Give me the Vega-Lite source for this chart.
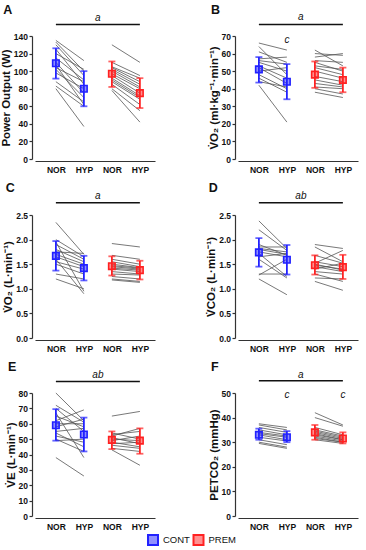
{
"$schema":"https://vega.github.io/schema/vega-lite/v6.json",
"padding":{"left":0,"top":3,"right":5,"bottom":0},
"datasets":{
"ind":[
{"p":"A","g":"CONT","n":135,"h":112},{"p":"A","g":"CONT","n":133,"h":100},{"p":"A","g":"CONT","n":130,"h":95},{"p":"A","g":"CONT","n":125,"h":85},{"p":"A","g":"CONT","n":120,"h":102},{"p":"A","g":"CONT","n":115,"h":90},{"p":"A","g":"CONT","n":110,"h":75},{"p":"A","g":"CONT","n":107,"h":62},{"p":"A","g":"CONT","n":104,"h":88},{"p":"A","g":"CONT","n":102,"h":70},{"p":"A","g":"CONT","n":98,"h":80},{"p":"A","g":"CONT","n":88,"h":65},{"p":"A","g":"CONT","n":83,"h":60},{"p":"A","g":"CONT","n":80,"h":37},
{"p":"A","g":"PREM","n":130,"h":110},{"p":"A","g":"PREM","n":110,"h":95},{"p":"A","g":"PREM","n":105,"h":92},{"p":"A","g":"PREM","n":104,"h":88},{"p":"A","g":"PREM","n":102,"h":85},{"p":"A","g":"PREM","n":100,"h":82},{"p":"A","g":"PREM","n":97,"h":80},{"p":"A","g":"PREM","n":95,"h":75},{"p":"A","g":"PREM","n":92,"h":72},{"p":"A","g":"PREM","n":90,"h":70},{"p":"A","g":"PREM","n":88,"h":68},{"p":"A","g":"PREM","n":85,"h":62},{"p":"A","g":"PREM","n":80,"h":55},{"p":"A","g":"PREM","n":78,"h":42},
{"p":"B","g":"CONT","n":66,"h":62},{"p":"B","g":"CONT","n":64,"h":48},{"p":"B","g":"CONT","n":61,"h":55},{"p":"B","g":"CONT","n":57,"h":58},{"p":"B","g":"CONT","n":56,"h":54},{"p":"B","g":"CONT","n":55,"h":50},{"p":"B","g":"CONT","n":53,"h":46},{"p":"B","g":"CONT","n":52,"h":43},{"p":"B","g":"CONT","n":50,"h":52},{"p":"B","g":"CONT","n":48,"h":40},{"p":"B","g":"CONT","n":46,"h":38},{"p":"B","g":"CONT","n":44,"h":41},{"p":"B","g":"CONT","n":42,"h":21},
{"p":"B","g":"PREM","n":62,"h":53},{"p":"B","g":"PREM","n":60,"h":59},{"p":"B","g":"PREM","n":58,"h":60},{"p":"B","g":"PREM","n":56,"h":55},{"p":"B","g":"PREM","n":55,"h":50},{"p":"B","g":"PREM","n":53,"h":51},{"p":"B","g":"PREM","n":52,"h":48},{"p":"B","g":"PREM","n":50,"h":46},{"p":"B","g":"PREM","n":47,"h":44},{"p":"B","g":"PREM","n":45,"h":42},{"p":"B","g":"PREM","n":43,"h":41},{"p":"B","g":"PREM","n":41,"h":40},{"p":"B","g":"PREM","n":40,"h":37},{"p":"B","g":"PREM","n":38,"h":35},
{"p":"C","g":"CONT","n":2.35,"h":1.7},{"p":"C","g":"CONT","n":2.0,"h":1.65},{"p":"C","g":"CONT","n":1.95,"h":0.95},{"p":"C","g":"CONT","n":1.9,"h":1.6},{"p":"C","g":"CONT","n":1.8,"h":1.55},{"p":"C","g":"CONT","n":1.75,"h":1.72},{"p":"C","g":"CONT","n":1.7,"h":1.5},{"p":"C","g":"CONT","n":1.65,"h":1.45},{"p":"C","g":"CONT","n":1.6,"h":0.9},{"p":"C","g":"CONT","n":1.55,"h":1.4},{"p":"C","g":"CONT","n":1.5,"h":1.3},{"p":"C","g":"CONT","n":1.3,"h":1.2},{"p":"C","g":"CONT","n":1.2,"h":1.0},
{"p":"C","g":"PREM","n":1.92,"h":1.85},{"p":"C","g":"PREM","n":1.68,"h":1.6},{"p":"C","g":"PREM","n":1.6,"h":1.5},{"p":"C","g":"PREM","n":1.55,"h":1.45},{"p":"C","g":"PREM","n":1.5,"h":1.43},{"p":"C","g":"PREM","n":1.47,"h":1.42},{"p":"C","g":"PREM","n":1.45,"h":1.4},{"p":"C","g":"PREM","n":1.42,"h":1.38},{"p":"C","g":"PREM","n":1.4,"h":1.35},{"p":"C","g":"PREM","n":1.35,"h":1.3},{"p":"C","g":"PREM","n":1.3,"h":1.28},{"p":"C","g":"PREM","n":1.25,"h":1.2},{"p":"C","g":"PREM","n":1.2,"h":1.15},{"p":"C","g":"PREM","n":1.18,"h":1.13},
{"p":"D","g":"CONT","n":2.38,"h":1.82},{"p":"D","g":"CONT","n":2.2,"h":1.78},{"p":"D","g":"CONT","n":1.9,"h":1.68},{"p":"D","g":"CONT","n":1.85,"h":1.85},{"p":"D","g":"CONT","n":1.82,"h":1.75},{"p":"D","g":"CONT","n":1.8,"h":1.7},{"p":"D","g":"CONT","n":1.75,"h":1.65},{"p":"D","g":"CONT","n":1.72,"h":1.25},{"p":"D","g":"CONT","n":1.65,"h":1.72},{"p":"D","g":"CONT","n":1.6,"h":1.22},{"p":"D","g":"CONT","n":1.3,"h":1.3},{"p":"D","g":"CONT","n":1.28,"h":1.6},{"p":"D","g":"CONT","n":1.2,"h":0.88},
{"p":"D","g":"PREM","n":1.9,"h":1.82},{"p":"D","g":"PREM","n":1.85,"h":1.55},{"p":"D","g":"PREM","n":1.68,"h":1.52},{"p":"D","g":"PREM","n":1.55,"h":1.45},{"p":"D","g":"PREM","n":1.52,"h":1.78},{"p":"D","g":"PREM","n":1.5,"h":1.38},{"p":"D","g":"PREM","n":1.48,"h":1.4},{"p":"D","g":"PREM","n":1.45,"h":1.35},{"p":"D","g":"PREM","n":1.4,"h":1.52},{"p":"D","g":"PREM","n":1.35,"h":1.3},{"p":"D","g":"PREM","n":1.3,"h":1.15},{"p":"D","g":"PREM","n":1.22,"h":1.2},{"p":"D","g":"PREM","n":1.15,"h":0.97},
{"p":"E","g":"CONT","n":80,"h":62},{"p":"E","g":"CONT","n":72,"h":61},{"p":"E","g":"CONT","n":70,"h":55},{"p":"E","g":"CONT","n":67,"h":38},{"p":"E","g":"CONT","n":65,"h":58},{"p":"E","g":"CONT","n":62,"h":69},{"p":"E","g":"CONT","n":60,"h":60},{"p":"E","g":"CONT","n":58,"h":63},{"p":"E","g":"CONT","n":55,"h":57},{"p":"E","g":"CONT","n":54,"h":45},{"p":"E","g":"CONT","n":52,"h":48},{"p":"E","g":"CONT","n":50,"h":42},{"p":"E","g":"CONT","n":49,"h":50},{"p":"E","g":"CONT","n":38,"h":26},
{"p":"E","g":"PREM","n":65,"h":68},{"p":"E","g":"PREM","n":54,"h":50},{"p":"E","g":"PREM","n":53,"h":55},{"p":"E","g":"PREM","n":52,"h":57},{"p":"E","g":"PREM","n":51,"h":47},{"p":"E","g":"PREM","n":50,"h":49},{"p":"E","g":"PREM","n":49,"h":52},{"p":"E","g":"PREM","n":48,"h":45},{"p":"E","g":"PREM","n":47,"h":48},{"p":"E","g":"PREM","n":46,"h":44},{"p":"E","g":"PREM","n":44,"h":42},{"p":"E","g":"PREM","n":43,"h":33},
{"p":"F","g":"CONT","n":37.5,"h":36},{"p":"F","g":"CONT","n":37,"h":35},{"p":"F","g":"CONT","n":36,"h":34},{"p":"F","g":"CONT","n":35,"h":33},{"p":"F","g":"CONT","n":34,"h":32.5},{"p":"F","g":"CONT","n":33.5,"h":32},{"p":"F","g":"CONT","n":33,"h":31},{"p":"F","g":"CONT","n":32,"h":30.5},{"p":"F","g":"CONT","n":31,"h":29},{"p":"F","g":"CONT","n":30,"h":28},{"p":"F","g":"CONT","n":29.5,"h":27.5},
{"p":"F","g":"PREM","n":42,"h":37},{"p":"F","g":"PREM","n":40,"h":36.5},{"p":"F","g":"PREM","n":36,"h":33},{"p":"F","g":"PREM","n":35,"h":32.5},{"p":"F","g":"PREM","n":34.5,"h":32},{"p":"F","g":"PREM","n":34,"h":31.5},{"p":"F","g":"PREM","n":33.5,"h":31},{"p":"F","g":"PREM","n":33,"h":31},{"p":"F","g":"PREM","n":32.5,"h":30.5},{"p":"F","g":"PREM","n":32,"h":30},{"p":"F","g":"PREM","n":31.5,"h":30},{"p":"F","g":"PREM","n":31,"h":29.5}
],
"sum":[
{"p":"A","g":"CONT","k":"CONT NOR","m":109,"lo":91.5,"hi":126},{"p":"A","g":"CONT","k":"CONT HYP","m":80,"lo":60,"hi":100},{"p":"A","g":"PREM","k":"PREM NOR","m":97,"lo":82,"hi":111},{"p":"A","g":"PREM","k":"PREM HYP","m":75,"lo":58,"hi":92},
{"p":"B","g":"CONT","k":"CONT NOR","m":51,"lo":43.5,"hi":58},{"p":"B","g":"CONT","k":"CONT HYP","m":44,"lo":34,"hi":54},{"p":"B","g":"PREM","k":"PREM NOR","m":48,"lo":40.5,"hi":55.5},{"p":"B","g":"PREM","k":"PREM HYP","m":45,"lo":38,"hi":52},
{"p":"C","g":"CONT","k":"CONT NOR","m":1.67,"lo":1.37,"hi":1.97},{"p":"C","g":"CONT","k":"CONT HYP","m":1.42,"lo":1.17,"hi":1.67},{"p":"C","g":"PREM","k":"PREM NOR","m":1.46,"lo":1.27,"hi":1.66},{"p":"C","g":"PREM","k":"PREM HYP","m":1.38,"lo":1.19,"hi":1.57},
{"p":"D","g":"CONT","k":"CONT NOR","m":1.74,"lo":1.45,"hi":2.03},{"p":"D","g":"CONT","k":"CONT HYP","m":1.59,"lo":1.29,"hi":1.89},{"p":"D","g":"PREM","k":"PREM NOR","m":1.48,"lo":1.29,"hi":1.68},{"p":"D","g":"PREM","k":"PREM HYP","m":1.44,"lo":1.2,"hi":1.69},
{"p":"E","g":"CONT","k":"CONT NOR","m":59,"lo":49,"hi":69.5},{"p":"E","g":"CONT","k":"CONT HYP","m":53,"lo":42,"hi":64},{"p":"E","g":"PREM","k":"PREM NOR","m":49.5,"lo":43.5,"hi":55},{"p":"E","g":"PREM","k":"PREM HYP","m":49,"lo":40.5,"hi":57},
{"p":"F","g":"CONT","k":"CONT NOR","m":33,"lo":31,"hi":35.5},{"p":"F","g":"CONT","k":"CONT HYP","m":32,"lo":30,"hi":34.5},{"p":"F","g":"PREM","k":"PREM NOR","m":34,"lo":31,"hi":37},{"p":"F","g":"PREM","k":"PREM HYP","m":31.5,"lo":29.5,"hi":34}
],
"sig":[{"p":"A","lab":"a"},{"p":"B","lab":"a"},{"p":"C","lab":"a"},{"p":"D","lab":"ab"},{"p":"E","lab":"ab"},{"p":"F","lab":"a"}],
"cc":[{"p":"B","k":"CONT HYP","lab":"c"},{"p":"F","k":"CONT HYP","lab":"c"},{"p":"F","k":"PREM HYP","lab":"c"}],
"leg":[{"g":"CONT"},{"g":"PREM"}]
},
"spacing":0,
"vconcat":[
{
"columns":2,
"spacing":{"row":8,"column":50},
"resolve":{"scale":{"x":"independent","y":"independent","color":"shared","fill":"shared","stroke":"shared"}},
"concat":[
{"title":"A","width":120,"height":123,"layer":[
 {"data":{"name":"ind"},"transform":[{"filter":"datum.p=='A'&&datum.g=='CONT'"}],"mark":{"type":"rule","color":"#555","strokeWidth":0.8},"encoding":{"x":{"datum":"CONT NOR"},"x2":{"datum":"CONT HYP"},"y":{"field":"n","type":"quantitative","scale":{"domain":[0,140],"nice":false},"axis":{"title":"Power Output (W)","values":[0,20,40,60,80,100,120,140],"labelOverlap":false}},"y2":{"field":"h"}}},
 {"data":{"name":"ind"},"transform":[{"filter":"datum.p=='A'&&datum.g=='PREM'"}],"mark":{"type":"rule","color":"#555","strokeWidth":0.8},"encoding":{"x":{"datum":"PREM NOR"},"x2":{"datum":"PREM HYP"},"y":{"field":"n","type":"quantitative","axis":{"title":"Power Output (W)","values":[0,20,40,60,80,100,120,140],"labelOverlap":false}},"y2":{"field":"h"}}},
 {"data":{"name":"sum"},"transform":[{"filter":"datum.p=='A'"}],"encoding":{"x":{"field":"k","type":"ordinal","scale":{"type":"point","domain":["CONT NOR","CONT HYP","PREM NOR","PREM HYP"],"padding":0.643,"align":0.58},"axis":{"title":null,"labelExpr":"split(datum.value,' ')[1]"}}},"layer":[
  {"mark":{"type":"rule","strokeWidth":1.8},"encoding":{"y":{"field":"lo","type":"quantitative","axis":{"title":"Power Output (W)","values":[0,20,40,60,80,100,120,140],"labelOverlap":false}},"y2":{"field":"hi"},"stroke":{"field":"g","type":"nominal","scale":{"domain":["CONT","PREM"],"range":["#2222ff","#ff2222"]},"legend":null}}},
  {"mark":{"type":"tick","size":7,"thickness":1.8},"encoding":{"y":{"field":"lo","type":"quantitative","axis":{"title":"Power Output (W)","values":[0,20,40,60,80,100,120,140],"labelOverlap":false}},"fill":{"field":"g","type":"nominal","scale":{"domain":["CONT","PREM"],"range":["#2222ff","#ff2222"]},"legend":null}}},
  {"mark":{"type":"tick","size":7,"thickness":1.8},"encoding":{"y":{"field":"hi","type":"quantitative","axis":{"title":"Power Output (W)","values":[0,20,40,60,80,100,120,140],"labelOverlap":false}},"fill":{"field":"g","type":"nominal","legend":null}}},
  {"mark":{"type":"point","shape":"square","size":42,"filled":false,"strokeWidth":1.6,"opacity":1},"encoding":{"y":{"field":"m","type":"quantitative","axis":{"title":"Power Output (W)","values":[0,20,40,60,80,100,120,140],"labelOverlap":false}},"stroke":{"field":"g","type":"nominal","legend":null}}},
  {"mark":{"type":"point","shape":"square","size":42,"filled":true,"opacity":0.5,"strokeWidth":0},"encoding":{"y":{"field":"m","type":"quantitative","axis":{"title":"Power Output (W)","values":[0,20,40,60,80,100,120,140],"labelOverlap":false}},"fill":{"field":"g","type":"nominal","legend":null}}}
 ]},
 {"data":{"name":"sig"},"transform":[{"filter":"datum.p=='A'"}],"layer":[
  {"mark":{"type":"rule","strokeWidth":1.5,"color":"#111"},"encoding":{"x":{"datum":"CONT NOR"},"x2":{"datum":"PREM HYP"},"y":{"datum":153,"axis":{"title":"Power Output (W)","values":[0,20,40,60,80,100,120,140],"labelOverlap":false}}}},
  {"mark":{"type":"text","fontStyle":"italic","fontSize":10,"dx":14,"baseline":"middle","color":"#111"},"encoding":{"x":{"datum":"CONT HYP"},"y":{"datum":161,"axis":{"title":"Power Output (W)","values":[0,20,40,60,80,100,120,140],"labelOverlap":false}},"text":{"field":"lab"}}}
 ]}
]},
{"title":"B","width":120,"height":123,"layer":[
 {"data":{"name":"ind"},"transform":[{"filter":"datum.p=='B'&&datum.g=='CONT'"}],"mark":{"type":"rule","color":"#555","strokeWidth":0.8},"encoding":{"x":{"datum":"CONT NOR"},"x2":{"datum":"CONT HYP"},"y":{"field":"n","type":"quantitative","scale":{"domain":[0,70],"nice":false},"axis":{"title":"V̇O₂ (ml·kg⁻¹·min⁻¹)","values":[0,10,20,30,40,50,60,70],"labelOverlap":false}},"y2":{"field":"h"}}},
 {"data":{"name":"ind"},"transform":[{"filter":"datum.p=='B'&&datum.g=='PREM'"}],"mark":{"type":"rule","color":"#555","strokeWidth":0.8},"encoding":{"x":{"datum":"PREM NOR"},"x2":{"datum":"PREM HYP"},"y":{"field":"n","type":"quantitative","axis":{"title":"V̇O₂ (ml·kg⁻¹·min⁻¹)","values":[0,10,20,30,40,50,60,70],"labelOverlap":false}},"y2":{"field":"h"}}},
 {"data":{"name":"sum"},"transform":[{"filter":"datum.p=='B'"}],"encoding":{"x":{"field":"k","type":"ordinal","scale":{"type":"point","domain":["CONT NOR","CONT HYP","PREM NOR","PREM HYP"],"padding":0.643,"align":0.58},"axis":{"title":null,"labelExpr":"split(datum.value,' ')[1]"}}},"layer":[
  {"mark":{"type":"rule","strokeWidth":1.8},"encoding":{"y":{"field":"lo","type":"quantitative","axis":{"title":"V̇O₂ (ml·kg⁻¹·min⁻¹)","values":[0,10,20,30,40,50,60,70],"labelOverlap":false}},"y2":{"field":"hi"},"stroke":{"field":"g","type":"nominal","legend":null}}},
  {"mark":{"type":"tick","size":7,"thickness":1.8},"encoding":{"y":{"field":"lo","type":"quantitative","axis":{"title":"V̇O₂ (ml·kg⁻¹·min⁻¹)","values":[0,10,20,30,40,50,60,70],"labelOverlap":false}},"fill":{"field":"g","type":"nominal","legend":null}}},
  {"mark":{"type":"tick","size":7,"thickness":1.8},"encoding":{"y":{"field":"hi","type":"quantitative","axis":{"title":"V̇O₂ (ml·kg⁻¹·min⁻¹)","values":[0,10,20,30,40,50,60,70],"labelOverlap":false}},"fill":{"field":"g","type":"nominal","legend":null}}},
  {"mark":{"type":"point","shape":"square","size":42,"filled":false,"strokeWidth":1.6,"opacity":1},"encoding":{"y":{"field":"m","type":"quantitative","axis":{"title":"V̇O₂ (ml·kg⁻¹·min⁻¹)","values":[0,10,20,30,40,50,60,70],"labelOverlap":false}},"stroke":{"field":"g","type":"nominal","legend":null}}},
  {"mark":{"type":"point","shape":"square","size":42,"filled":true,"opacity":0.5,"strokeWidth":0},"encoding":{"y":{"field":"m","type":"quantitative","axis":{"title":"V̇O₂ (ml·kg⁻¹·min⁻¹)","values":[0,10,20,30,40,50,60,70],"labelOverlap":false}},"fill":{"field":"g","type":"nominal","legend":null}}}
 ]},
 {"data":{"name":"sig"},"transform":[{"filter":"datum.p=='B'"}],"layer":[
  {"mark":{"type":"rule","strokeWidth":1.5,"color":"#111"},"encoding":{"x":{"datum":"CONT NOR"},"x2":{"datum":"PREM HYP"},"y":{"datum":76.6,"axis":{"title":"V̇O₂ (ml·kg⁻¹·min⁻¹)","values":[0,10,20,30,40,50,60,70],"labelOverlap":false}}}},
  {"mark":{"type":"text","fontStyle":"italic","fontSize":10,"dx":14,"baseline":"middle","color":"#111"},"encoding":{"x":{"datum":"CONT HYP"},"y":{"datum":80.8,"axis":{"title":"V̇O₂ (ml·kg⁻¹·min⁻¹)","values":[0,10,20,30,40,50,60,70],"labelOverlap":false}},"text":{"field":"lab"}}}
 ]},
 {"data":{"name":"cc"},"transform":[{"filter":"datum.p=='B'"}],"mark":{"type":"text","fontStyle":"italic","fontSize":10,"baseline":"middle","color":"#111"},"encoding":{"x":{"field":"k","type":"ordinal"},"y":{"datum":68,"axis":{"title":"V̇O₂ (ml·kg⁻¹·min⁻¹)","values":[0,10,20,30,40,50,60,70],"labelOverlap":false}},"text":{"field":"lab"}}}
]},
{"title":"C","width":120,"height":123,"layer":[
 {"data":{"name":"ind"},"transform":[{"filter":"datum.p=='C'&&datum.g=='CONT'"}],"mark":{"type":"rule","color":"#555","strokeWidth":0.8},"encoding":{"x":{"datum":"CONT NOR"},"x2":{"datum":"CONT HYP"},"y":{"field":"n","type":"quantitative","scale":{"domain":[0,2.5],"nice":false},"axis":{"title":"V̇O₂ (L·min⁻¹)","values":[0,0.5,1,1.5,2,2.5],"format":".1f","labelOverlap":false}},"y2":{"field":"h"}}},
 {"data":{"name":"ind"},"transform":[{"filter":"datum.p=='C'&&datum.g=='PREM'"}],"mark":{"type":"rule","color":"#555","strokeWidth":0.8},"encoding":{"x":{"datum":"PREM NOR"},"x2":{"datum":"PREM HYP"},"y":{"field":"n","type":"quantitative","axis":{"title":"V̇O₂ (L·min⁻¹)","values":[0,0.5,1,1.5,2,2.5],"format":".1f","labelOverlap":false}},"y2":{"field":"h"}}},
 {"data":{"name":"sum"},"transform":[{"filter":"datum.p=='C'"}],"encoding":{"x":{"field":"k","type":"ordinal","scale":{"type":"point","domain":["CONT NOR","CONT HYP","PREM NOR","PREM HYP"],"padding":0.643,"align":0.58},"axis":{"title":null,"labelExpr":"split(datum.value,' ')[1]"}}},"layer":[
  {"mark":{"type":"rule","strokeWidth":1.8},"encoding":{"y":{"field":"lo","type":"quantitative","axis":{"title":"V̇O₂ (L·min⁻¹)","values":[0,0.5,1,1.5,2,2.5],"format":".1f","labelOverlap":false}},"y2":{"field":"hi"},"stroke":{"field":"g","type":"nominal","legend":null}}},
  {"mark":{"type":"tick","size":7,"thickness":1.8},"encoding":{"y":{"field":"lo","type":"quantitative","axis":{"title":"V̇O₂ (L·min⁻¹)","values":[0,0.5,1,1.5,2,2.5],"format":".1f","labelOverlap":false}},"fill":{"field":"g","type":"nominal","legend":null}}},
  {"mark":{"type":"tick","size":7,"thickness":1.8},"encoding":{"y":{"field":"hi","type":"quantitative","axis":{"title":"V̇O₂ (L·min⁻¹)","values":[0,0.5,1,1.5,2,2.5],"format":".1f","labelOverlap":false}},"fill":{"field":"g","type":"nominal","legend":null}}},
  {"mark":{"type":"point","shape":"square","size":42,"filled":false,"strokeWidth":1.6,"opacity":1},"encoding":{"y":{"field":"m","type":"quantitative","axis":{"title":"V̇O₂ (L·min⁻¹)","values":[0,0.5,1,1.5,2,2.5],"format":".1f","labelOverlap":false}},"stroke":{"field":"g","type":"nominal","legend":null}}},
  {"mark":{"type":"point","shape":"square","size":42,"filled":true,"opacity":0.5,"strokeWidth":0},"encoding":{"y":{"field":"m","type":"quantitative","axis":{"title":"V̇O₂ (L·min⁻¹)","values":[0,0.5,1,1.5,2,2.5],"format":".1f","labelOverlap":false}},"fill":{"field":"g","type":"nominal","legend":null}}}
 ]},
 {"data":{"name":"sig"},"transform":[{"filter":"datum.p=='C'"}],"layer":[
  {"mark":{"type":"rule","strokeWidth":1.5,"color":"#111"},"encoding":{"x":{"datum":"CONT NOR"},"x2":{"datum":"PREM HYP"},"y":{"datum":2.75,"axis":{"title":"V̇O₂ (L·min⁻¹)","values":[0,0.5,1,1.5,2,2.5],"format":".1f","labelOverlap":false}}}},
  {"mark":{"type":"text","fontStyle":"italic","fontSize":10,"dx":14,"baseline":"middle","color":"#111"},"encoding":{"x":{"datum":"CONT HYP"},"y":{"datum":2.89,"axis":{"title":"V̇O₂ (L·min⁻¹)","values":[0,0.5,1,1.5,2,2.5],"format":".1f","labelOverlap":false}},"text":{"field":"lab"}}}
 ]}
]},
{"title":"D","width":120,"height":123,"layer":[
 {"data":{"name":"ind"},"transform":[{"filter":"datum.p=='D'&&datum.g=='CONT'"}],"mark":{"type":"rule","color":"#555","strokeWidth":0.8},"encoding":{"x":{"datum":"CONT NOR"},"x2":{"datum":"CONT HYP"},"y":{"field":"n","type":"quantitative","scale":{"domain":[0,2.5],"nice":false},"axis":{"title":"V̇CO₂ (L·min⁻¹)","values":[0,0.5,1,1.5,2,2.5],"format":".1f","labelOverlap":false}},"y2":{"field":"h"}}},
 {"data":{"name":"ind"},"transform":[{"filter":"datum.p=='D'&&datum.g=='PREM'"}],"mark":{"type":"rule","color":"#555","strokeWidth":0.8},"encoding":{"x":{"datum":"PREM NOR"},"x2":{"datum":"PREM HYP"},"y":{"field":"n","type":"quantitative","axis":{"title":"V̇CO₂ (L·min⁻¹)","values":[0,0.5,1,1.5,2,2.5],"format":".1f","labelOverlap":false}},"y2":{"field":"h"}}},
 {"data":{"name":"sum"},"transform":[{"filter":"datum.p=='D'"}],"encoding":{"x":{"field":"k","type":"ordinal","scale":{"type":"point","domain":["CONT NOR","CONT HYP","PREM NOR","PREM HYP"],"padding":0.643,"align":0.58},"axis":{"title":null,"labelExpr":"split(datum.value,' ')[1]"}}},"layer":[
  {"mark":{"type":"rule","strokeWidth":1.8},"encoding":{"y":{"field":"lo","type":"quantitative","axis":{"title":"V̇CO₂ (L·min⁻¹)","values":[0,0.5,1,1.5,2,2.5],"format":".1f","labelOverlap":false}},"y2":{"field":"hi"},"stroke":{"field":"g","type":"nominal","legend":null}}},
  {"mark":{"type":"tick","size":7,"thickness":1.8},"encoding":{"y":{"field":"lo","type":"quantitative","axis":{"title":"V̇CO₂ (L·min⁻¹)","values":[0,0.5,1,1.5,2,2.5],"format":".1f","labelOverlap":false}},"fill":{"field":"g","type":"nominal","legend":null}}},
  {"mark":{"type":"tick","size":7,"thickness":1.8},"encoding":{"y":{"field":"hi","type":"quantitative","axis":{"title":"V̇CO₂ (L·min⁻¹)","values":[0,0.5,1,1.5,2,2.5],"format":".1f","labelOverlap":false}},"fill":{"field":"g","type":"nominal","legend":null}}},
  {"mark":{"type":"point","shape":"square","size":42,"filled":false,"strokeWidth":1.6,"opacity":1},"encoding":{"y":{"field":"m","type":"quantitative","axis":{"title":"V̇CO₂ (L·min⁻¹)","values":[0,0.5,1,1.5,2,2.5],"format":".1f","labelOverlap":false}},"stroke":{"field":"g","type":"nominal","legend":null}}},
  {"mark":{"type":"point","shape":"square","size":42,"filled":true,"opacity":0.5,"strokeWidth":0},"encoding":{"y":{"field":"m","type":"quantitative","axis":{"title":"V̇CO₂ (L·min⁻¹)","values":[0,0.5,1,1.5,2,2.5],"format":".1f","labelOverlap":false}},"fill":{"field":"g","type":"nominal","legend":null}}}
 ]},
 {"data":{"name":"sig"},"transform":[{"filter":"datum.p=='D'"}],"layer":[
  {"mark":{"type":"rule","strokeWidth":1.5,"color":"#111"},"encoding":{"x":{"datum":"CONT NOR"},"x2":{"datum":"PREM HYP"},"y":{"datum":2.75,"axis":{"title":"V̇CO₂ (L·min⁻¹)","values":[0,0.5,1,1.5,2,2.5],"format":".1f","labelOverlap":false}}}},
  {"mark":{"type":"text","fontStyle":"italic","fontSize":10,"dx":14,"baseline":"middle","color":"#111"},"encoding":{"x":{"datum":"CONT HYP"},"y":{"datum":2.89,"axis":{"title":"V̇CO₂ (L·min⁻¹)","values":[0,0.5,1,1.5,2,2.5],"format":".1f","labelOverlap":false}},"text":{"field":"lab"}}}
 ]}
]},
{"title":"E","width":120,"height":123,"layer":[
 {"data":{"name":"ind"},"transform":[{"filter":"datum.p=='E'&&datum.g=='CONT'"}],"mark":{"type":"rule","color":"#555","strokeWidth":0.8},"encoding":{"x":{"datum":"CONT NOR"},"x2":{"datum":"CONT HYP"},"y":{"field":"n","type":"quantitative","scale":{"domain":[0,80],"nice":false},"axis":{"title":"V̇E (L·min⁻¹)","values":[0,10,20,30,40,50,60,70,80],"labelOverlap":false}},"y2":{"field":"h"}}},
 {"data":{"name":"ind"},"transform":[{"filter":"datum.p=='E'&&datum.g=='PREM'"}],"mark":{"type":"rule","color":"#555","strokeWidth":0.8},"encoding":{"x":{"datum":"PREM NOR"},"x2":{"datum":"PREM HYP"},"y":{"field":"n","type":"quantitative","axis":{"title":"V̇E (L·min⁻¹)","values":[0,10,20,30,40,50,60,70,80],"labelOverlap":false}},"y2":{"field":"h"}}},
 {"data":{"name":"sum"},"transform":[{"filter":"datum.p=='E'"}],"encoding":{"x":{"field":"k","type":"ordinal","scale":{"type":"point","domain":["CONT NOR","CONT HYP","PREM NOR","PREM HYP"],"padding":0.643,"align":0.58},"axis":{"title":null,"labelExpr":"split(datum.value,' ')[1]"}}},"layer":[
  {"mark":{"type":"rule","strokeWidth":1.8},"encoding":{"y":{"field":"lo","type":"quantitative","axis":{"title":"V̇E (L·min⁻¹)","values":[0,10,20,30,40,50,60,70,80],"labelOverlap":false}},"y2":{"field":"hi"},"stroke":{"field":"g","type":"nominal","legend":null}}},
  {"mark":{"type":"tick","size":7,"thickness":1.8},"encoding":{"y":{"field":"lo","type":"quantitative","axis":{"title":"V̇E (L·min⁻¹)","values":[0,10,20,30,40,50,60,70,80],"labelOverlap":false}},"fill":{"field":"g","type":"nominal","legend":null}}},
  {"mark":{"type":"tick","size":7,"thickness":1.8},"encoding":{"y":{"field":"hi","type":"quantitative","axis":{"title":"V̇E (L·min⁻¹)","values":[0,10,20,30,40,50,60,70,80],"labelOverlap":false}},"fill":{"field":"g","type":"nominal","legend":null}}},
  {"mark":{"type":"point","shape":"square","size":42,"filled":false,"strokeWidth":1.6,"opacity":1},"encoding":{"y":{"field":"m","type":"quantitative","axis":{"title":"V̇E (L·min⁻¹)","values":[0,10,20,30,40,50,60,70,80],"labelOverlap":false}},"stroke":{"field":"g","type":"nominal","legend":null}}},
  {"mark":{"type":"point","shape":"square","size":42,"filled":true,"opacity":0.5,"strokeWidth":0},"encoding":{"y":{"field":"m","type":"quantitative","axis":{"title":"V̇E (L·min⁻¹)","values":[0,10,20,30,40,50,60,70,80],"labelOverlap":false}},"fill":{"field":"g","type":"nominal","legend":null}}}
 ]},
 {"data":{"name":"sig"},"transform":[{"filter":"datum.p=='E'"}],"layer":[
  {"mark":{"type":"rule","strokeWidth":1.5,"color":"#111"},"encoding":{"x":{"datum":"CONT NOR"},"x2":{"datum":"PREM HYP"},"y":{"datum":87.5,"axis":{"title":"V̇E (L·min⁻¹)","values":[0,10,20,30,40,50,60,70,80],"labelOverlap":false}}}},
  {"mark":{"type":"text","fontStyle":"italic","fontSize":10,"dx":14,"baseline":"middle","color":"#111"},"encoding":{"x":{"datum":"CONT HYP"},"y":{"datum":91.8,"axis":{"title":"V̇E (L·min⁻¹)","values":[0,10,20,30,40,50,60,70,80],"labelOverlap":false}},"text":{"field":"lab"}}}
 ]}
]},
{"title":"F","width":120,"height":123,"layer":[
 {"data":{"name":"ind"},"transform":[{"filter":"datum.p=='F'&&datum.g=='CONT'"}],"mark":{"type":"rule","color":"#555","strokeWidth":0.8},"encoding":{"x":{"datum":"CONT NOR"},"x2":{"datum":"CONT HYP"},"y":{"field":"n","type":"quantitative","scale":{"domain":[0,50],"nice":false},"axis":{"title":"PETCO₂ (mmHg)","values":[0,10,20,30,40,50],"labelOverlap":false}},"y2":{"field":"h"}}},
 {"data":{"name":"ind"},"transform":[{"filter":"datum.p=='F'&&datum.g=='PREM'"}],"mark":{"type":"rule","color":"#555","strokeWidth":0.8},"encoding":{"x":{"datum":"PREM NOR"},"x2":{"datum":"PREM HYP"},"y":{"field":"n","type":"quantitative","axis":{"title":"PETCO₂ (mmHg)","values":[0,10,20,30,40,50],"labelOverlap":false}},"y2":{"field":"h"}}},
 {"data":{"name":"sum"},"transform":[{"filter":"datum.p=='F'"}],"encoding":{"x":{"field":"k","type":"ordinal","scale":{"type":"point","domain":["CONT NOR","CONT HYP","PREM NOR","PREM HYP"],"padding":0.643,"align":0.58},"axis":{"title":null,"labelExpr":"split(datum.value,' ')[1]"}}},"layer":[
  {"mark":{"type":"rule","strokeWidth":1.8},"encoding":{"y":{"field":"lo","type":"quantitative","axis":{"title":"PETCO₂ (mmHg)","values":[0,10,20,30,40,50],"labelOverlap":false}},"y2":{"field":"hi"},"stroke":{"field":"g","type":"nominal","legend":null}}},
  {"mark":{"type":"tick","size":7,"thickness":1.8},"encoding":{"y":{"field":"lo","type":"quantitative","axis":{"title":"PETCO₂ (mmHg)","values":[0,10,20,30,40,50],"labelOverlap":false}},"fill":{"field":"g","type":"nominal","legend":null}}},
  {"mark":{"type":"tick","size":7,"thickness":1.8},"encoding":{"y":{"field":"hi","type":"quantitative","axis":{"title":"PETCO₂ (mmHg)","values":[0,10,20,30,40,50],"labelOverlap":false}},"fill":{"field":"g","type":"nominal","legend":null}}},
  {"mark":{"type":"point","shape":"square","size":42,"filled":false,"strokeWidth":1.6,"opacity":1},"encoding":{"y":{"field":"m","type":"quantitative","axis":{"title":"PETCO₂ (mmHg)","values":[0,10,20,30,40,50],"labelOverlap":false}},"stroke":{"field":"g","type":"nominal","legend":null}}},
  {"mark":{"type":"point","shape":"square","size":42,"filled":true,"opacity":0.5,"strokeWidth":0},"encoding":{"y":{"field":"m","type":"quantitative","axis":{"title":"PETCO₂ (mmHg)","values":[0,10,20,30,40,50],"labelOverlap":false}},"fill":{"field":"g","type":"nominal","legend":null}}}
 ]},
 {"data":{"name":"sig"},"transform":[{"filter":"datum.p=='F'"}],"layer":[
  {"mark":{"type":"rule","strokeWidth":1.5,"color":"#111"},"encoding":{"x":{"datum":"CONT NOR"},"x2":{"datum":"PREM HYP"},"y":{"datum":55,"axis":{"title":"PETCO₂ (mmHg)","values":[0,10,20,30,40,50],"labelOverlap":false}}}},
  {"mark":{"type":"text","fontStyle":"italic","fontSize":10,"dx":14,"baseline":"middle","color":"#111"},"encoding":{"x":{"datum":"CONT HYP"},"y":{"datum":57.4,"axis":{"title":"PETCO₂ (mmHg)","values":[0,10,20,30,40,50],"labelOverlap":false}},"text":{"field":"lab"}}}
 ]},
 {"data":{"name":"cc"},"transform":[{"filter":"datum.p=='F'"}],"mark":{"type":"text","fontStyle":"italic","fontSize":10,"baseline":"middle","color":"#111"},"encoding":{"x":{"field":"k","type":"ordinal"},"y":{"datum":49,"axis":{"title":"PETCO₂ (mmHg)","values":[0,10,20,30,40,50],"labelOverlap":false}},"text":{"field":"lab"}}}
]}
]
},
{"width":320,"height":10,"data":{"name":"leg"},"layer":[
 {"mark":{"type":"point","shape":"square","size":100,"filled":true,"opacity":0.5,"strokeWidth":0},"encoding":{"x":{"field":"g","type":"nominal","scale":{"type":"point","domain":["CONT","PREM"],"range":[118,163.5],"padding":0},"axis":null},"fill":{"field":"g","type":"nominal","legend":null}}},
 {"mark":{"type":"point","shape":"square","size":100,"filled":false,"strokeWidth":2,"opacity":1},"encoding":{"x":{"field":"g","type":"nominal","axis":null},"stroke":{"field":"g","type":"nominal","legend":null}}},
 {"mark":{"type":"text","align":"left","baseline":"middle","dx":10,"fontSize":9.5,"font":"Liberation Sans","color":"#111"},"encoding":{"x":{"field":"g","type":"nominal","axis":null},"text":{"field":"g"}}}
]}
],
"config":{
 "font":"Liberation Sans",
 "view":{"stroke":null},
 "axis":{"grid":false,"labelFont":"Liberation Sans","labelFontWeight":"bold","labelFontSize":8.5,"labelColor":"#111","labelOverlap":false,"titleFont":"Liberation Sans","titleFontWeight":"bold","titleFontSize":11.5,"titleColor":"#111","domainColor":"#333","domainWidth":1.2,"tickColor":"#333","tickSize":3,"tickWidth":1.2,"titlePadding":2},
 "axisX":{"ticks":false,"labelAngle":0,"labelPadding":4,"offset":2},
 "axisY":{"offset":3,"labelPadding":1.5},
 "title":{"anchor":"start","frame":"bounds","fontSize":12.5,"fontWeight":"bold","font":"Liberation Sans","color":"#111","offset":-4,"dx":3}
}
}
